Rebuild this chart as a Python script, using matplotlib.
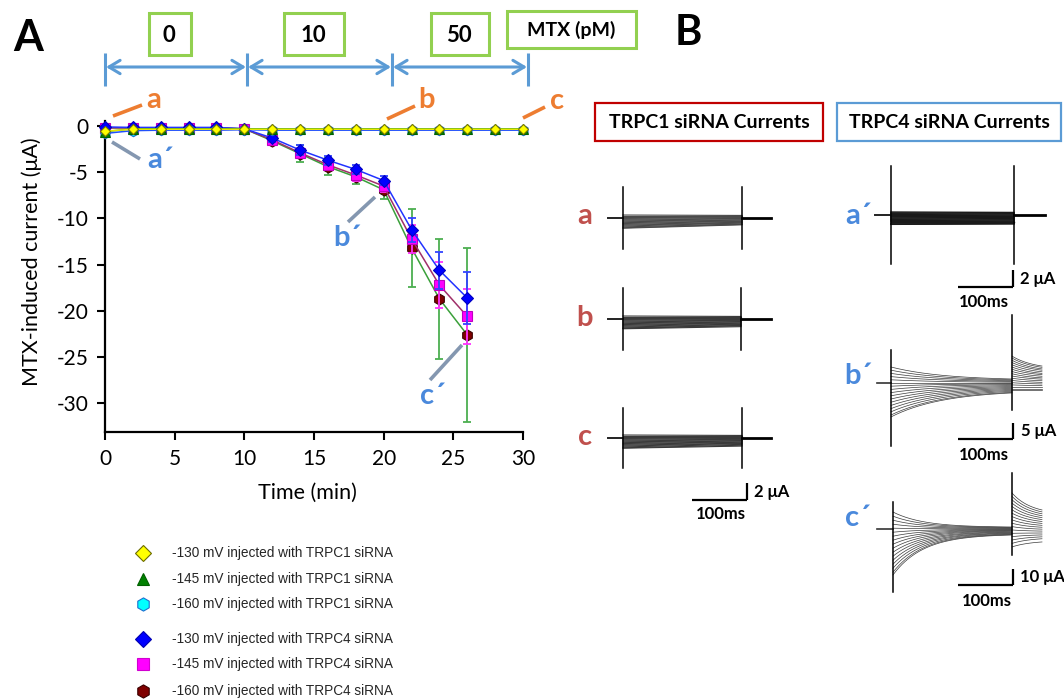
import numpy as np
import matplotlib
matplotlib.use("Agg")
import matplotlib.pyplot as plt
from matplotlib.patches import Rectangle, FancyArrowPatch

plt.rcParams['axes.unicode_minus'] = False

# ---------------- data (panel A) ----------------
time_trpc1 = [0, 2, 4, 6, 8, 10, 12, 14, 16, 18, 20, 22, 24, 26, 28, 30]
time_trpc4 = [0, 2, 4, 6, 8, 10, 12, 14, 16, 18, 20, 22, 24, 26]

trpc1_130 = [-0.55, -0.35, -0.35, -0.35, -0.35, -0.35, -0.35, -0.35,
             -0.35, -0.35, -0.35, -0.35, -0.35, -0.35, -0.35, -0.35]
trpc1_145 = [-0.6, -0.3, -0.3, -0.3, -0.3, -0.3, -0.3, -0.3,
             -0.3, -0.3, -0.3, -0.3, -0.3, -0.3, -0.3, -0.3]
trpc1_160 = [-0.8, -0.5, -0.45, -0.45, -0.45, -0.4, -0.45, -0.45,
             -0.45, -0.45, -0.45, -0.45, -0.45, -0.45, -0.45, -0.45]

trpc4_130 = [-0.1, -0.15, -0.15, -0.15, -0.15, -0.3, -1.3, -2.6, -3.7, -4.7, -5.9, -11.2, -15.6, -18.6]
trpc4_130_err = [0, 0, 0, 0, 0, 0, 0.4, 0.5, 0.5, 0.5, 0.5, 1.3, 2.0, 2.8]
trpc4_145 = [-0.2, -0.2, -0.2, -0.2, -0.2, -0.3, -1.5, -2.9, -4.2, -5.3, -6.5, -12.2, -17.2, -20.6]
trpc4_145_err = [0, 0, 0, 0, 0, 0, 0.4, 0.5, 0.6, 0.6, 0.6, 1.5, 2.5, 3.0]
trpc4_160 = [-0.2, -0.2, -0.2, -0.2, -0.2, -0.3, -1.6, -3.0, -4.4, -5.5, -6.9, -13.2, -18.7, -22.6]
trpc4_160_err = [0, 0, 0, 0, 0, 0, 0.4, 0.9, 0.9, 0.8, 1.0, 4.2, 6.5, 9.4]

x_ticks = [0, 5, 10, 15, 20, 25, 30]
y_ticks = [0, -5, -10, -15, -20, -25, -30]
y_tick_labels = ["0", "-5", "-10", "-15", "-20", "-25", "-30"]

legend_labels = ["-130 mV injected with TRPC1 siRNA",
                 "-145 mV injected with TRPC1 siRNA",
                 "-160 mV injected with TRPC1 siRNA",
                 "-130 mV injected with TRPC4 siRNA",
                 "-145 mV injected with TRPC4 siRNA",
                 "-160 mV injected with TRPC4 siRNA"]

concentrations = ["0", "10", "50"]

# ---------------- data (panel B, sketched current traces, in uA) ----------------
a_band_start = [0.35, 0.25, 0.15, 0.05, -0.05, -0.15, -0.25, -0.35, -0.45, -0.55, -0.65, -0.75, -0.85, -0.95, -1.05, -1.15, -1.2]
a_band_end = [0.3, 0.25, 0.2, 0.1, 0.05, -0.05, -0.1, -0.2, -0.25, -0.35, -0.4, -0.5, -0.55, -0.6, -0.7, -0.75, -0.8]
b_band_start = [0.35, 0.25, 0.15, 0.05, -0.05, -0.15, -0.25, -0.35, -0.45, -0.55, -0.65, -0.75, -0.85, -0.95, -1.05, -1.1, -1.15]
b_band_end = [0.3, 0.25, 0.15, 0.1, 0.0, -0.05, -0.15, -0.2, -0.3, -0.35, -0.45, -0.5, -0.6, -0.65, -0.75, -0.8, -0.9]
c_band_start = [0.35, 0.25, 0.15, 0.05, -0.05, -0.15, -0.25, -0.35, -0.45, -0.55, -0.65, -0.75, -0.85, -0.95, -1.05, -1.15, -1.2]
c_band_end = [0.3, 0.25, 0.15, 0.1, 0.0, -0.05, -0.15, -0.2, -0.3, -0.35, -0.45, -0.5, -0.6, -0.65, -0.75, -0.85, -0.95]
a4_band_start = [0.35, 0.25, 0.15, 0.05, -0.05, -0.15, -0.25, -0.35, -0.45, -0.55, -0.65, -0.75, -0.85, -0.95, -1.05, -1.1]
a4_band_end = [0.3, 0.2, 0.1, 0.0, -0.1, -0.2, -0.3, -0.4, -0.5, -0.6, -0.7, -0.8, -0.85, -0.9, -1.0, -1.05]

b4_start = [5.0, 4.0, 3.0, 2.0, 1.0, 0.0, -1.0, -2.0, -3.0, -4.0, -5.0, -6.0, -7.0, -8.0, -9.0, -10.0, -10.6]
b4_end = [1.25, 1.0, 0.75, 0.5, 0.25, 0.0, -0.25, -0.5, -0.8, -1.1, -1.4, -1.7, -2.0, -2.3, -2.6, -2.9, -3.1]
b4_tail_start = [8.4, 7.8, 7.1, 6.4, 5.7, 5.0, 4.3, 3.6, 2.9, 2.2, 1.5, 0.8, 0.1, -0.6, -1.3, -1.8, -2.2]
b4_tail_end = [5.3, 4.9, 4.4, 4.0, 3.5, 3.0, 2.6, 2.1, 1.6, 1.2, 0.7, 0.2, -0.3, -0.8, -1.3, -1.8, -2.2]
c4_start = [10.6, 8.0, 5.5, 3.0, 0.5, -2.0, -4.5, -7.0, -9.5, -12.0, -14.5, -17.0, -19.5, -22.0, -24.5, -27.0, -28.7]
c4_end = [1.25, 1.0, 0.7, 0.4, 0.1, -0.2, -0.5, -0.8, -1.1, -1.4, -1.8, -2.1, -2.5, -2.8, -3.2, -3.5, -3.75]
c4_tail_start = [22.5, 20.4, 18.3, 16.2, 14.1, 12.0, 9.9, 7.8, 5.7, 3.6, 1.5, -0.6, -2.7, -4.8, -6.9, -9.0, -11.2]
c4_tail_end = [11.9, 10.7, 9.5, 8.3, 7.1, 5.9, 4.7, 3.5, 2.3, 1.1, -0.1, -1.3, -2.5, -3.7, -4.9, -6.1, -8.1]

# ---------------- figure ----------------
W, H = 1064, 700
fig = plt.figure(figsize=(W / 100, H / 100), dpi=100)
fig.patch.set_facecolor('white')

CAL = ['Lato', 'DejaVu Sans']
ARIAL = ['Liberation Sans', 'DejaVu Sans']

ov = fig.add_axes([0, 0, 1, 1], zorder=5)
ov.set_xlim(0, W)
ov.set_ylim(H, 0)
ov.axis('off')
ov.patch.set_alpha(0)

# ---------------- panel A ----------------
ax = fig.add_axes([105 / W, 1 - 432 / H, 418 / W, (432 - 121.4) / H], zorder=2)
ax.patch.set_alpha(0)


def draw_series(x, y, err, marker, mfc, mec, lc, ec, ms, z, mew=0.8):
    ax.plot(x, y, color=lc, lw=1.1, zorder=z, clip_on=False)
    if err is not None:
        xs = [xi for xi, e in zip(x, err) if e > 0]
        ys = [yi for yi, e in zip(y, err) if e > 0]
        es = [e for e in err if e > 0]
        ax.errorbar(xs, ys, yerr=es, fmt='none', ecolor=ec, elinewidth=1.3,
                    capsize=3.2, capthick=1.3, zorder=z - 0.5, clip_on=False)
    ax.plot(x, y, ls='none', marker=marker, ms=ms, mfc=mfc, mec=mec, mew=mew,
            zorder=z + 0.2, clip_on=False)


draw_series(time_trpc4, trpc4_160, trpc4_160_err, 'h', '#800000', '#3a0000', '#3aa03a', '#4caf50', 8, 3)
draw_series(time_trpc4, trpc4_145, trpc4_145_err, 's', '#ff00ff', '#c000c0', '#a0306a', '#ff33ff', 6.5, 4)
draw_series(time_trpc4, trpc4_130, trpc4_130_err, 'D', '#0000ff', '#0000c0', '#2233ff', '#3344ff', 6.5, 5)
draw_series(time_trpc1, trpc1_160, None, 'h', '#00ffff', '#1f6fd0', '#1f4fff', None, 7.5, 6)
draw_series(time_trpc1, trpc1_145, None, '^', '#008000', '#006000', '#2a9a2a', None, 6.5, 7)
draw_series(time_trpc1, trpc1_130, None, 'D', '#ffff00', '#7a7a00', '#e8e800', None, 5, 8)

ax.set_xlim(0, 30)
ax.set_ylim(-33.1, 0.5)
ax.set_xticks(x_ticks)
ax.set_xticklabels([str(t) for t in x_ticks])
ax.set_yticks(y_ticks)
ax.set_yticklabels(y_tick_labels)
for s in ['top', 'right']:
    ax.spines[s].set_visible(False)
for s in ['left', 'bottom']:
    ax.spines[s].set_linewidth(1.6)
ax.tick_params(direction='out', length=6, width=1.5, pad=6, labelsize=15, colors='black')
for lab in ax.get_xticklabels() + ax.get_yticklabels():
    lab.set_family(CAL)

fig.text(32 / W, 1 - 262 / H, "MTX-induced current (μA)", rotation=90, ha='center', va='center',
         fontsize=15.5, family=CAL)
fig.text(307 / W, 1 - 493 / H, "Time (min)", ha='center', va='center', fontsize=15.5, family=CAL)

ov.text(28, 38, "A", fontsize=31, fontweight='bold', family=CAL, ha='center', va='center')
ov.text(688, 33, "B", fontsize=30, fontweight='bold', family=CAL, ha='center', va='center')

green = '#92d050'
box_specs = [(149, 42), (284, 60), (431, 58)]
for (bx, bw), lab in zip(box_specs, concentrations):
    ov.add_patch(Rectangle((bx, 13), bw, 42, fill=False, ec=green, lw=2.2))
    ov.text(bx + bw / 2 - 1, 36, lab, fontsize=16, fontweight='bold', family=CAL, ha='center', va='center')
ov.add_patch(Rectangle((507, 11), 129, 37, fill=False, ec=green, lw=2.2))
ov.text(571, 30, "MTX (pM)", fontsize=14, fontweight='bold', family=CAL, ha='center', va='center')

arrow_blue = '#5b9bd5'
bars = [105, 247, 392, 528]
for bx in bars:
    ov.plot([bx, bx], [53, 86], color=arrow_blue, lw=2.2, solid_capstyle='butt')
for x0, x1 in zip(bars[:-1], bars[1:]):
    ov.add_patch(FancyArrowPatch((x0 + 1, 67), (x1 - 1, 67), arrowstyle='<->,head_length=5,head_width=3',
                                 mutation_scale=1.6, color=arrow_blue, lw=2.2, shrinkA=0, shrinkB=0))

orange = '#ed7d31'
for (x0, y0, x1, y1), (tx, ty), lab in zip([(113, 116, 142, 105), (387, 119, 415, 106), (523, 118, 545, 107)],
                                           [(154, 100), (427, 100), (557, 101)], ["a", "b", "c"]):
    ov.plot([x0, x1], [y0, y1], color=orange, lw=2.6, solid_capstyle='butt')
    ov.text(tx, ty, lab, color=orange, fontsize=21, fontweight='bold', family=CAL, ha='center', va='center')

slate = '#8497b0'
pblue = '#4a89dc'
for (x0, y0, x1, y1), (tx, ty), lab in zip([(112, 142, 140, 159), (375, 197, 348, 222), (462, 345, 430, 380)],
                                           [(160, 160), (347, 238), (433, 396)], ["a´", "b´", "c´"]):
    ov.plot([x0, x1], [y0, y1], color=slate, lw=2.6, solid_capstyle='butt')
    ov.text(tx, ty, lab, color=pblue, fontsize=21, fontweight='bold', family=CAL, ha='center', va='center')

leg_rows = [553, 579, 604, 639, 664, 691]
leg_style = [('D', '#ffff00', '#6b6b00', 8), ('^', '#008000', '#006000', 9),
             ('h', '#00ffff', '#1f6fd0', 9.5), ('D', '#0000ff', '#0000b0', 8),
             ('s', '#ff00ff', '#d000d0', 8.5), ('h', '#800000', '#3a0000', 9.5)]
for ry, (mk, fc, ec, ms), lab in zip(leg_rows, leg_style, legend_labels):
    ov.plot([143], [ry], marker=mk, ms=ms, mfc=fc, mec=ec, mew=0.8, ls='none', clip_on=False)
    ov.text(172, ry, lab, fontsize=9.8, family=ARIAL, color='#262626', ha='left', va='center')

# ---------------- panel B ----------------
red_box = '#c00000'
ov.add_patch(Rectangle((595, 103), 228, 38, fill=False, ec=red_box, lw=1.6))
ov.text(709, 122, "TRPC1 siRNA Currents", fontsize=14, fontweight='bold', family=CAL, ha='center', va='center')
ov.add_patch(Rectangle((837, 103), 224, 38, fill=False, ec=arrow_blue, lw=1.6))
ov.text(949, 122, "TRPC4 siRNA Currents", fontsize=14, fontweight='bold', family=CAL, ha='center', va='center')

red_lab = '#c0504d'
for ty, lab in zip([216, 318, 437], ["a", "b", "c"]):
    ov.text(585, ty, lab, color=red_lab, fontsize=21, fontweight='bold', family=CAL, ha='center', va='center')
for ty, lab in zip([216, 376, 518], ["a´", "b´", "c´"]):
    ov.text(858, ty, lab, color=pblue, fontsize=21, fontweight='bold', family=CAL, ha='center', va='center')

PMS = 0.55  # pixels per ms


def trace_axes(on_px, base_px, L, R, T, B, pua):
    a = fig.add_axes([L / W, 1 - B / H, (R - L) / W, (B - T) / H], zorder=3)
    a.set_xlim((L - on_px) / PMS, (R - on_px) / PMS)
    a.set_ylim((base_px - B) / pua, (base_px - T) / pua)
    a.axis('off')
    a.patch.set_alpha(0)
    return a


def relax(t, start, end, tau):
    T = t[-1]
    f = (np.exp(-t / tau) - np.exp(-T / tau)) / (1 - np.exp(-T / tau))
    return end + (start - end) * f


def flat_trace(on_px, base_px, off_px, pre_px, post_px, spike, starts, ends, pua, col='#3a3a3a', lwb=0.8):
    dur = (off_px - on_px) / PMS
    a = trace_axes(on_px, base_px, pre_px - 2, post_px + 2, base_px - spike * pua - 3,
                   base_px + spike * pua + 3, pua)
    t = np.linspace(0, dur, 200)
    for s, e in zip(starts, ends):
        a.plot(t, s + (e - s) * t / dur, color=col, lw=lwb)
    a.plot([(pre_px - on_px) / PMS, 0], [0, 0], color='#222222', lw=1.4)
    a.plot([dur, (post_px - on_px) / PMS], [0, 0], color='black', lw=2.0)
    a.plot([0, 0], [-spike, spike], color='black', lw=1.1)
    a.plot([dur, dur], [-spike, spike], color='black', lw=1.1)
    return a


p1 = 8.5
flat_trace(623, 218, 742, 608, 771, 3.65, a_band_start, a_band_end, p1, col='#4a4a4a')
flat_trace(623, 319, 741, 608, 771, 3.65, b_band_start, b_band_end, p1, col='#3a3a3a')
flat_trace(623, 438, 742, 608, 771, 3.55, c_band_start, c_band_end, p1, col='#3a3a3a')
flat_trace(891, 215, 1014, 875, 1045, 5.8, a4_band_start, a4_band_end, p1, col='#1a1a1a', lwb=1.0)


def fan_trace(on_px, base_px, off_px, pre_px, tail_px, pua, starts, ends, tstarts, tends,
              tau, ttau, on_sp, off_sp):
    dur = (off_px - on_px) / PMS
    tdur = (tail_px - off_px) / PMS
    a = trace_axes(on_px, base_px, pre_px - 2, tail_px + 2, base_px - max(on_sp[1], off_sp[1]) * pua - 3,
                   base_px - min(on_sp[0], off_sp[0]) * pua + 3, pua)
    t = np.linspace(0, dur, 300)
    for s, e in zip(starts, ends):
        a.plot(t, relax(t, s, e, tau), color='#3a3a3a', lw=0.5)
    tt = np.linspace(0, tdur, 80)
    for s, e in zip(tstarts, tends):
        a.plot(dur + tt, relax(tt, s, e, ttau), color='#3a3a3a', lw=0.5)
    a.plot([(pre_px - on_px) / PMS, 0], [0, 0], color='#333333', lw=1.2)
    a.plot([0, 0], on_sp, color='black', lw=1.1)
    a.plot([dur, dur], off_sp, color='black', lw=1.1)
    return a


fan_trace(891, 383, 1012, 877, 1042, 3.2, b4_start, b4_end, b4_tail_start, b4_tail_end,
          95, 40, (-19.7, 10.3), (-8.4, 21.2))
fan_trace(893, 529, 1012, 877, 1042, 1.6, c4_start, c4_end, c4_tail_start, c4_tail_end,
          55, 35, (-39.4, 16.9), (-16.2, 35.0))


def scale_bar(x_end, y, amp_px, amp_txt, tx, ty, mx, my):
    ov.plot([x_end - 100 * PMS, x_end], [y, y], color='black', lw=1.6, solid_capstyle='butt')
    ov.plot([x_end, x_end], [y, y - amp_px], color='black', lw=1.6, solid_capstyle='butt')
    ov.text(tx, ty, amp_txt, fontsize=12, fontweight='bold', family=CAL, ha='left', va='center')
    ov.text(mx, my, "100ms", fontsize=12, fontweight='bold', family=CAL, ha='center', va='center')


scale_bar(747, 500, 2 * 8.5, "2 μA", 754, 492, 721, 514)
scale_bar(1013, 287, 2 * 8.5, "2 μA", 1020, 279, 984, 302)
scale_bar(1013, 439, 5 * 3.2, "5 μA", 1021, 431, 984, 455)
scale_bar(1013, 585, 10 * 1.6, "10 μA", 1020, 577, 987, 601)

fig.savefig("out.png", dpi=100)
